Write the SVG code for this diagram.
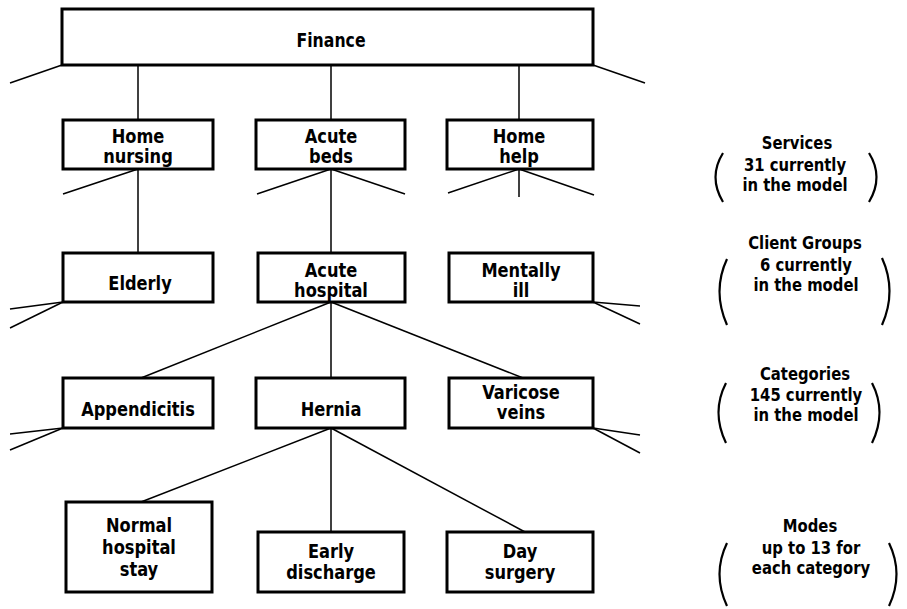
<svg xmlns="http://www.w3.org/2000/svg" width="907" height="609" viewBox="0 0 907 609">
<style>
.box{fill:#fff;stroke:#000;stroke-width:3}
.ln{fill:none;stroke:#000;stroke-width:1.5}
.par{fill:none;stroke:#000;stroke-width:2.2}
text{font-family:"DejaVu Sans Condensed","Liberation Sans Narrow","Liberation Sans",sans-serif;font-weight:bold;font-size:19px;fill:#000;text-anchor:middle}
.lg text{font-size:17px}
</style>
<rect width="907" height="609" fill="#fff"/>
<g id="connectors">
<line class="ln" x1="62" y1="65" x2="10" y2="83"/>
<line class="ln" x1="593" y1="65" x2="645" y2="83"/>
<line class="ln" x1="138" y1="65" x2="138" y2="120"/>
<line class="ln" x1="331" y1="65" x2="331" y2="120"/>
<line class="ln" x1="519" y1="65" x2="519" y2="120"/>
<line class="ln" x1="138" y1="169" x2="63" y2="194"/>
<line class="ln" x1="138" y1="169" x2="138" y2="253"/>
<line class="ln" x1="331" y1="169" x2="257" y2="194"/>
<line class="ln" x1="331" y1="169" x2="405" y2="194"/>
<line class="ln" x1="331" y1="169" x2="331" y2="253"/>
<line class="ln" x1="519" y1="169" x2="448" y2="193"/>
<line class="ln" x1="519" y1="169" x2="594" y2="195"/>
<line class="ln" x1="519" y1="169" x2="519" y2="197"/>
<line class="ln" x1="63" y1="302" x2="10" y2="309"/>
<line class="ln" x1="63" y1="302" x2="10" y2="328"/>
<line class="ln" x1="593" y1="302" x2="640" y2="306"/>
<line class="ln" x1="593" y1="302" x2="640" y2="324"/>
<line class="ln" x1="331" y1="302" x2="141" y2="378"/>
<line class="ln" x1="331" y1="302" x2="331" y2="378"/>
<line class="ln" x1="331" y1="302" x2="523" y2="378"/>
<line class="ln" x1="63" y1="428" x2="10" y2="434"/>
<line class="ln" x1="63" y1="428" x2="10" y2="450"/>
<line class="ln" x1="593" y1="428" x2="640" y2="435"/>
<line class="ln" x1="593" y1="428" x2="640" y2="453"/>
<line class="ln" x1="331" y1="428" x2="141" y2="502"/>
<line class="ln" x1="331" y1="428" x2="331" y2="532"/>
<line class="ln" x1="331" y1="428" x2="525" y2="532"/>
</g>
<g id="finance"><rect class="box" x="62" y="9" width="531" height="56"/><text transform="translate(331 47) scale(.92 1)">Finance</text></g>
<g id="home-nursing"><rect class="box" x="63" y="120" width="150" height="49"/><text transform="translate(138 143) scale(.95 1)">Home</text><text transform="translate(138 163) scale(.95 1)">nursing</text></g>
<g id="acute-beds"><rect class="box" x="256" y="120" width="149" height="49"/><text transform="translate(331 143) scale(.95 1)">Acute</text><text transform="translate(331 163) scale(.95 1)">beds</text></g>
<g id="home-help"><rect class="box" x="447" y="120" width="146" height="49"/><text transform="translate(519 143) scale(.95 1)">Home</text><text transform="translate(519 163) scale(.95 1)">help</text></g>
<g id="elderly"><rect class="box" x="63" y="253" width="150" height="49"/><text transform="translate(140 290) scale(.95 1)">Elderly</text></g>
<g id="acute-hospital"><rect class="box" x="258" y="253" width="147" height="49"/><text transform="translate(331 277) scale(.95 1)">Acute</text><text transform="translate(331 297) scale(.95 1)">hospital</text></g>
<g id="mentally-ill"><rect class="box" x="449" y="253" width="144" height="49"/><text transform="translate(521 277) scale(.95 1)">Mentally</text><text transform="translate(521 297) scale(.95 1)">ill</text></g>
<g id="appendicitis"><rect class="box" x="63" y="378" width="150" height="50"/><text transform="translate(138 416) scale(.95 1)">Appendicitis</text></g>
<g id="hernia"><rect class="box" x="256" y="378" width="149" height="50"/><text transform="translate(331 416) scale(.95 1)">Hernia</text></g>
<g id="varicose-veins"><rect class="box" x="449" y="378" width="144" height="50"/><text transform="translate(521 399) scale(.95 1)">Varicose</text><text transform="translate(521 419) scale(.95 1)">veins</text></g>
<g id="normal-hospital-stay"><rect class="box" x="66" y="502" width="146" height="90"/><text transform="translate(139 532) scale(.95 1)">Normal</text><text transform="translate(139 554) scale(.95 1)">hospital</text><text transform="translate(139 576) scale(.95 1)">stay</text></g>
<g id="early-discharge"><rect class="box" x="258" y="532" width="146" height="60"/><text transform="translate(331 558) scale(.95 1)">Early</text><text transform="translate(331 579) scale(.95 1)">discharge</text></g>
<g id="day-surgery"><rect class="box" x="447" y="532" width="146" height="60"/><text transform="translate(520 558) scale(.95 1)">Day</text><text transform="translate(520 579) scale(.95 1)">surgery</text></g>
<g id="legend-services" class="lg">
<text transform="translate(797 149) scale(.97 1)">Services</text><text transform="translate(795 171) scale(.97 1)">31 currently</text><text transform="translate(795 191) scale(.97 1)">in the model</text>
<path class="par" d="M723 153 Q708 177 723 202"/><path class="par" d="M869 153 Q884 177 869 202"/>
</g>
<g id="legend-client-groups" class="lg">
<text transform="translate(805 249) scale(.97 1)">Client Groups</text><text transform="translate(806 271) scale(.97 1)">6 currently</text><text transform="translate(806 291) scale(.97 1)">in the model</text>
<path class="par" d="M727 259 Q712 291 727 325"/><path class="par" d="M882 258 Q897 291 882 325"/>
</g>
<g id="legend-categories" class="lg">
<text transform="translate(805 380) scale(.97 1)">Categories</text><text transform="translate(806 401) scale(.97 1)">145 currently</text><text transform="translate(806 421) scale(.97 1)">in the model</text>
<path class="par" d="M726 383 Q711 412 726 443"/><path class="par" d="M872 383 Q887 412 872 443"/>
</g>
<g id="legend-modes" class="lg">
<text transform="translate(810 532) scale(.97 1)">Modes</text><text transform="translate(811 554) scale(.97 1)">up to 13 for</text><text transform="translate(811 574) scale(.97 1)">each category</text>
<path class="par" d="M727 543 Q712 574 727 606"/><path class="par" d="M889 543 Q904 574 889 606"/>
</g>
</svg>
